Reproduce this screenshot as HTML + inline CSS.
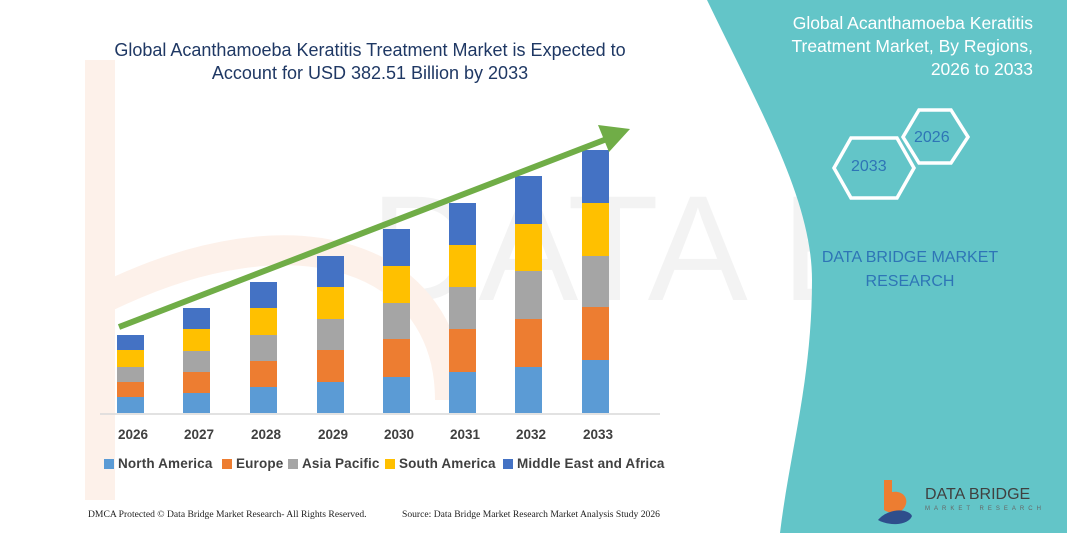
<!DOCTYPE html>
<html><head><meta charset="utf-8"><style>
body{margin:0;width:1067px;height:533px;overflow:hidden;background:#fff;font-family:"Liberation Sans",sans-serif;position:relative}
.t{position:absolute;white-space:nowrap}
</style></head><body>
<svg width="1067" height="533" style="position:absolute;left:0;top:0">
<text x="370" y="300" font-size="150" fill="#f3f3f3" font-family="Liberation Sans">DATA BRIDGE</text>
<path d="M100,60 L100,500" stroke="#fdf1ea" stroke-width="30" fill="none"/>
<path d="M100,300 C300,200 450,260 450,400" stroke="#fdf1ea" stroke-width="30" fill="none"/>
<path d="M707,0 C760,110 812,200 812,280 C812,380 790,450 780,533 L1067,533 L1067,0 Z" fill="#63c5c8"/>
<g fill="none" stroke="#fff" stroke-width="3.5">
<polygon points="834,168 851,138 897,138 914,168 897,198 851,198"/>
<polygon points="903,137 919,110 951,110 968,137 951,163 919,163"/>
</g>
<line x1="100" y1="414" x2="660" y2="414" stroke="#d9d9d9" stroke-width="1.5"/>
<g id="bars"></g>
<line x1="119" y1="327" x2="612" y2="137" stroke="#70ad47" stroke-width="6"/>
<polygon points="630,129 598,125 609,152" fill="#70ad47"/>
<g>
<rect x="104" y="459" width="10" height="10" fill="#5b9bd5"/>
<rect x="222" y="459" width="10" height="10" fill="#ed7d31"/>
<rect x="288" y="459" width="10" height="10" fill="#a5a5a5"/>
<rect x="385" y="459" width="10" height="10" fill="#ffc000"/>
<rect x="503" y="459" width="10" height="10" fill="#4472c4"/>
</g>
<g transform="translate(878,480)">
<path d="M8,0 L14,0 L14,12 C26,10 32,20 26,28 C22,34 12,34 6,30 L6,0 Z" fill="#ed7d31"/>
<path d="M0,40 C10,28 30,28 34,36 C30,46 10,46 0,40 Z" fill="#2e4e8c"/>
</g>
</svg>
<div class="t" style="left:0;width:740px;text-align:center;top:39px;font-size:18px;color:#1f3864;line-height:23px">Global Acanthamoeba Keratitis Treatment Market is Expected to<br>Account for USD 382.51 Billion by 2033</div>
<div class="t" style="right:34px;top:12px;font-size:17.5px;color:#fff;text-align:right;line-height:23px">Global Acanthamoeba Keratitis<br>Treatment Market, By Regions,<br>2026 to 2033</div>
<div class="t" style="left:851px;top:158px;font-size:16px;color:#2e75b6">2033</div>
<div class="t" style="left:914px;top:129px;font-size:16px;color:#2e75b6">2026</div>
<div class="t" style="left:820px;top:246px;width:180px;text-align:center;font-size:16px;color:#2e75b6;line-height:24px">DATA BRIDGE MARKET<br>RESEARCH</div>
<div class="t" style="left:925px;top:486px;font-size:16px;color:#404040">DATA BRIDGE</div>
<div class="t" style="left:925px;top:506px;font-size:6px;color:#666;letter-spacing:4px">MARKET RESEARCH</div>
<div class="t" style="left:118px;top:427px;font-size:13.5px;font-weight:bold;color:#404040">
<span style="position:absolute;left:0">2026</span><span style="position:absolute;left:66px">2027</span><span style="position:absolute;left:133px">2028</span><span style="position:absolute;left:200px">2029</span><span style="position:absolute;left:266px">2030</span><span style="position:absolute;left:332px">2031</span><span style="position:absolute;left:398px">2032</span><span style="position:absolute;left:465px">2033</span></div>
<div class="t" style="top:456px;font-size:13.5px;font-weight:bold;color:#404040;letter-spacing:0.15px">
<span style="position:absolute;left:118px">North America</span><span style="position:absolute;left:236px">Europe</span><span style="position:absolute;left:302px">Asia Pacific</span><span style="position:absolute;left:399px">South America</span><span style="position:absolute;left:517px">Middle East and Africa</span></div>
<div class="t" style="left:88px;top:509px;font-size:9.6px;font-family:'Liberation Serif',serif;color:#222">DMCA Protected © Data Bridge Market Research- All Rights Reserved.</div>
<div class="t" style="left:402px;top:509px;font-size:9.6px;font-family:'Liberation Serif',serif;color:#222">Source: Data Bridge Market Research Market Analysis Study 2026</div>
<script>
var xs=[117,183,250,317,383,449,515,582];
var ys=[[335,350,367,382,397],[308,329,351,372,393],[282,308,335,361,387],[256,287,319,350,382],[229,266,303,339,377],[203,245,287,329,372],[176,224,271,319,367],[150,203,256,307,360]];
var cols=["#4472c4","#ffc000","#a5a5a5","#ed7d31","#5b9bd5"];
var g=document.getElementById("bars"),s="";
for(var i=0;i<8;i++){for(var j=0;j<5;j++){var y=ys[i][j],y2=j<4?ys[i][j+1]:413;
s+='<rect x="'+xs[i]+'" y="'+y+'" width="27" height="'+(y2-y)+'" fill="'+cols[j]+'"/>';}}
g.innerHTML=s;
</script>
</body></html>
